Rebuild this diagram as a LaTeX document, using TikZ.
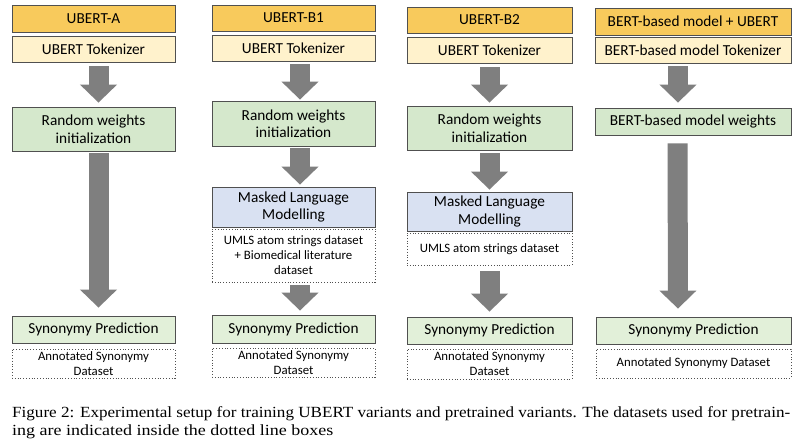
\documentclass[tikz,border=0pt]{standalone}
\usepackage{fontspec}
\setmainfont{Liberation Serif}
\newfontfamily\boxfont{Carlito}
\usetikzlibrary{arrows.meta}
\definecolor{hdr}{HTML}{F8CA5C}
\definecolor{tok}{HTML}{FFF2CC}
\definecolor{grn}{HTML}{D5E8CC}
\definecolor{syn}{HTML}{E2F0D9}
\definecolor{mlm}{HTML}{D9E1F2}
\definecolor{edge}{HTML}{505050}
\definecolor{arr}{HTML}{7F7F7F}
\tikzset{
  bx/.style={draw=edge, line width=0.8pt, inner sep=0pt, align=center,
    font=\boxfont\fontsize{15.3}{17.5}\selectfont},
  dotbox/.style={draw=edge, line width=0.8pt, dotted, inner sep=0pt, align=center, fill=white,
    font=\boxfont\fontsize{12.8}{15}\selectfont},
  barrow/.style={draw=arr, line width=20pt, -{Triangle[width=36pt,length=18pt]}, arr}
}
\begin{document}
\begin{tikzpicture}[x=1pt,y=-1pt]
\useasboundingbox[fill=white] (0,0) rectangle (800,446);
% Column A
\node[bx, fill=hdr, minimum width=163pt, minimum height=27pt] (A1) at (93.5,18.5) {UBERT-A};
\node[bx, fill=tok, minimum width=163pt, minimum height=26pt] (A2) at (93.5,49) {UBERT Tokenizer};
\node[bx, fill=grn, minimum width=163pt, minimum height=44pt] (A3) at (93.5,129) {Random weights\\initialization};
\node[bx, fill=syn, minimum width=163pt, minimum height=27pt] (A4) at (93.5,329.5) {Synonymy Prediction};
\node[dotbox, minimum width=163pt, minimum height=29pt] (A5) at (93.5,363.5) {Annotated Synonymy\\Dataset};
% Column B1
\node[bx, fill=hdr, minimum width=163pt, minimum height=26pt] (B1) at (293.5,18) {UBERT-B1};
\node[bx, fill=tok, minimum width=163pt, minimum height=26pt] (B2) at (293.5,48) {UBERT Tokenizer};
\node[bx, fill=grn, minimum width=163pt, minimum height=45pt] (B3) at (293.5,123.5) {Random weights\\initialization};
\node[bx, fill=mlm, minimum width=163pt, minimum height=40pt] (B4) at (293.5,207) {Masked Language\\Modelling};
\node[dotbox, minimum width=163pt, minimum height=53pt] (B5) at (293.5,255.5) {UMLS atom strings dataset\\+ Biomedical literature\\dataset};
\node[bx, fill=syn, minimum width=163pt, minimum height=28pt] (B6) at (293.5,329) {Synonymy Prediction};
\node[dotbox, minimum width=163pt, minimum height=29pt] (B7) at (293.5,362.5) {Annotated Synonymy\\Dataset};
% Column B2
\node[bx, fill=hdr, minimum width=165pt, minimum height=26pt] (C1) at (489.5,20) {UBERT-B2};
\node[bx, fill=tok, minimum width=165pt, minimum height=26pt] (C2) at (489.5,50) {UBERT Tokenizer};
\node[bx, fill=grn, minimum width=165pt, minimum height=44pt] (C3) at (489.5,128) {Random weights\\initialization};
\node[bx, fill=mlm, minimum width=165pt, minimum height=39pt] (C4) at (489.5,211.5) {Masked Language\\Modelling};
\node[dotbox, minimum width=165pt, minimum height=32pt] (C5) at (489.5,249) {UMLS atom strings dataset};
\node[bx, fill=syn, minimum width=165pt, minimum height=27pt] (C6) at (489.5,330.5) {Synonymy Prediction};
\node[dotbox, minimum width=165pt, minimum height=30pt] (C7) at (489.5,364) {Annotated Synonymy\\Dataset};
% Column D
\node[bx, fill=hdr, minimum width=196pt, minimum height=27pt] (D1) at (693,21.5) {BERT-based model + UBERT};
\node[bx, fill=tok, minimum width=196pt, minimum height=26pt] (D2) at (693,50) {BERT-based model Tokenizer};
\node[bx, fill=grn, minimum width=196pt, minimum height=27pt] (D3) at (693,121.5) {BERT-based model weights};
\node[bx, fill=syn, minimum width=195pt, minimum height=27pt] (D4) at (693.5,330.5) {Synonymy Prediction};
\node[dotbox, minimum width=195pt, minimum height=29pt] (D5) at (693.5,363.5) {Annotated Synonymy Dataset};
% Arrows (yshift is in canvas units: negative = downwards)
\draw[barrow] ([xshift=5pt,yshift=-4pt]A2.south) -- ([xshift=5pt,yshift=4pt]A3.north);
\draw[barrow] ([xshift=5pt,yshift=-2pt]A3.south) -- ([xshift=5pt,yshift=8pt]A4.north);
\draw[barrow] ([xshift=6.5pt,yshift=-3pt]B2.south) -- ([xshift=6.5pt,yshift=1pt]B3.north);
\draw[barrow] ([xshift=6.5pt,yshift=-2pt]B3.south) -- ([xshift=6.5pt,yshift=2pt]B4.north);
\draw[barrow] ([xshift=6.5pt,yshift=-3pt]B5.south) -- ([xshift=6.5pt,yshift=4pt]B6.north);
\draw[barrow] ([yshift=-4pt]C2.south) -- ([yshift=3pt]C3.north);
\draw[barrow] ([yshift=-3pt]C3.south) -- ([yshift=2pt]C4.north);
\draw[barrow] ([yshift=-6pt]C5.south) -- ([yshift=5pt]C6.north);
\draw[barrow] ([xshift=-15pt,yshift=-3pt]D2.south) -- ([xshift=-15pt,yshift=5pt]D3.north);
\draw[barrow] ([xshift=-15.5pt,yshift=-8pt]D3.south) -- ([xshift=-15.5pt,yshift=8pt]D4.north);
% Caption
\node[anchor=north west, inner sep=0pt, align=left,
  font=\fontsize{15.5}{18}\selectfont] (cap) at (12,406)
  {\resizebox{778pt}{\height}{Figure 2: Experimental setup for training UBERT variants and pretrained variants. The datasets used for pretrain-}\\
   \scalebox{1.16}[1]{ing are indicated inside the dotted line boxes}};
\end{tikzpicture}
\end{document}
